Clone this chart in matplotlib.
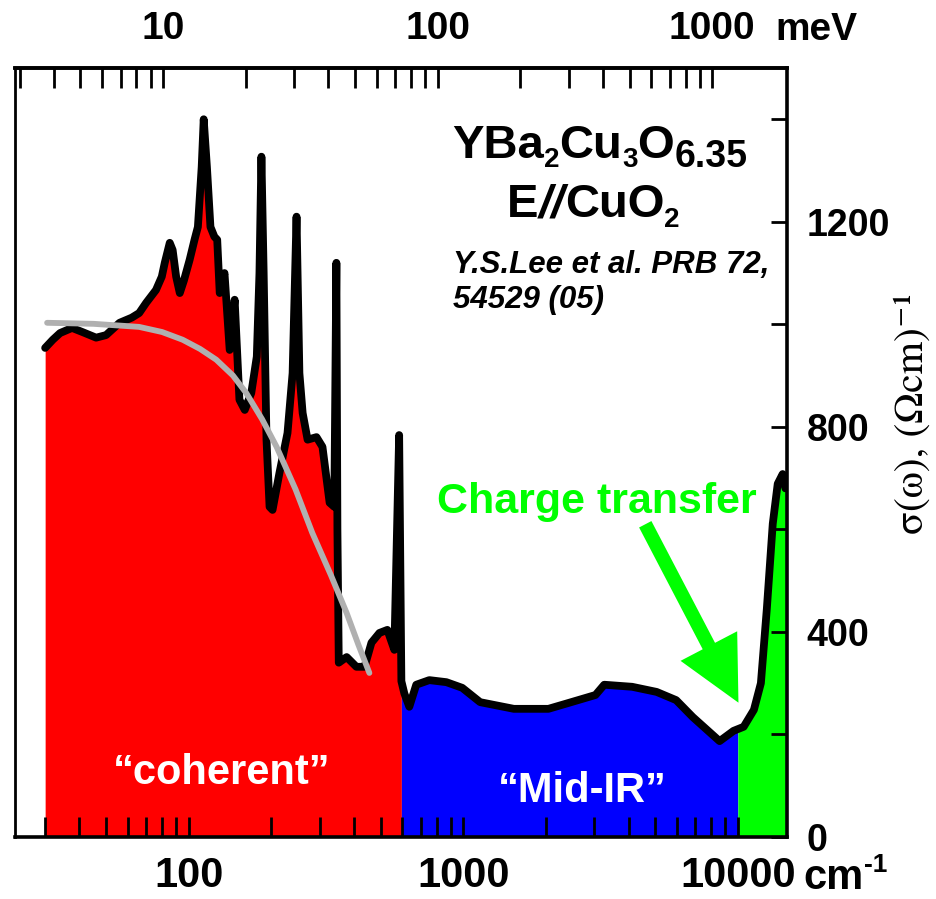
import numpy as np
import matplotlib.pyplot as plt
from matplotlib.ticker import FixedLocator, NullFormatter

plt.rcParams['font.family'] = ['Liberation Sans', 'DejaVu Sans']
plt.rcParams['font.weight'] = 'bold'

# optical conductivity, E // CuO2 (wavenumber in cm^-1, sigma in (Ohm cm)^-1)
wavenumber = [30, 32, 34, 37.6, 41, 46, 50, 56, 62, 66, 70, 76, 79.8, 81.8, 85.3,
              87.4, 90, 92.8, 96, 100.8, 105, 108, 111.5, 113.4, 116.5, 120, 124,
              127, 129.7, 135, 141, 147, 153, 160, 169, 177, 181, 184, 187.5, 192,
              197, 202, 214, 229, 239, 247, 253, 260, 271, 292, 307, 326, 339, 345,
              348, 352, 376, 408, 437, 463, 495, 529, 561, 584, 595, 610, 636, 674,
              752, 868, 991, 1152, 1528, 2042, 2400, 3030, 3260, 4120, 5060, 5960,
              6850, 8580, 9640, 10500, 11440, 12130, 12750, 13400, 13970, 14560, 14900]
sigma = [954, 970, 983, 993, 985, 974, 979, 1003, 1013, 1022, 1042, 1067, 1093, 1120, 1159,
         1145, 1093, 1061, 1085, 1126, 1165, 1190, 1307, 1400, 1307, 1190, 1171,
         1165, 1061, 1100, 950, 1048, 853, 833, 866, 937, 1100, 1327, 1100, 775,
         644, 638, 710, 788, 905, 1210, 905, 827, 775, 780, 761, 652, 644, 1120,
         600, 340, 351, 332, 332, 379, 398, 404, 365, 784, 304, 280, 254, 297,
         306, 302, 291, 263, 250, 250, 261, 277, 297, 293, 283, 267,
         234, 187, 207, 215, 248, 300, 445, 611, 689, 708, 680]

# Drude curve for the coherent part
drude_wavenumber = [30.5, 45, 66, 80, 95, 110, 126, 145, 162, 185, 209, 245, 282, 330, 376, 415, 455]
drude_sigma = [1003, 1001, 995, 985, 970, 952, 931, 900, 866, 815, 761, 678, 593, 510, 437, 375, 320]

# spectral regions: coherent / mid-IR / charge transfer
region_edges = [30, 595, 10000, 14900]
region_colors = ['#ff0000', '#0000ff', '#00ff00']

x_ticks = [100, 1000, 10000]
y_ticks = [0, 400, 800, 1200]
mev_ticks = [10, 100, 1000]
CM_PER_MEV = 8.0655

W, H = 937, 899


def fx(px):
    return px / W


def fy(py):
    return 1 - py / H


fig = plt.figure(figsize=(W / 100, H / 100), dpi=100)
ax = fig.add_axes([fx(15), fy(837), (787 - 15) / W, (837 - 68) / H])
ax.set_xscale('log')
ax.set_xlim(23.3, 15100)
ax.set_ylim(0, 1500)

x = np.array(wavenumber, dtype=float)
y = np.array(sigma, dtype=float)
lx = np.log10(x)
for lo, hi, c in zip(region_edges[:-1], region_edges[1:], region_colors):
    m = (x > lo) & (x < hi)
    xs = np.concatenate([[lo], x[m], [hi]])
    ys = np.interp(np.log10(xs), lx, y)
    ax.fill_between(xs, 0, ys, color=c, linewidth=0, zorder=1)

ax.plot(x, y, color='black', lw=5.6, solid_joinstyle='round', solid_capstyle='round', zorder=3)
ax.plot(drude_wavenumber, drude_sigma, color='#b0b0b0', lw=4.2, solid_capstyle='round', zorder=4)

# axes styling
for side in ['top', 'right', 'bottom']:
    ax.spines[side].set_linewidth(2.6)
ax.spines['left'].set_linewidth(2.0)
for s in ax.spines.values():
    s.set_zorder(5)

ax.yaxis.tick_right()
ax.yaxis.set_label_position('right')
ax.set_yticks(y_ticks)
ax.set_yticks([200, 600, 1000, 1400], minor=True)
ax.tick_params(axis='y', which='both', direction='in', length=11.5, width=2.0,
               labelsize=27, pad=14, right=True, left=False)

ax.xaxis.set_major_locator(FixedLocator(x_ticks))
minor_cm = [v * d for d in (10, 100, 1000) for v in range(2, 10) if 23.3 < v * d < 15100]
ax.xaxis.set_minor_locator(FixedLocator(minor_cm))
ax.xaxis.set_minor_formatter(NullFormatter())
ax.set_xticklabels([str(v) for v in x_ticks])
ax.tick_params(axis='x', which='both', direction='in', length=14.5, width=2.0,
               labelsize=30, pad=14, top=False)

sec = ax.secondary_xaxis('top', functions=(lambda v: v / CM_PER_MEV, lambda v: v * CM_PER_MEV))
sec.xaxis.set_major_locator(FixedLocator(mev_ticks))
minor_mev = [v * d for d in (1, 10, 100) for v in range(2, 10) if 2.9 < v * d < 1870]
sec.xaxis.set_minor_locator(FixedLocator(minor_mev))
sec.xaxis.set_minor_formatter(NullFormatter())
sec.set_xticklabels([str(v) for v in mev_ticks])
sec.tick_params(axis='x', which='both', direction='in', length=14.5, width=2.0,
                labelsize=28, pad=15)
sec.spines['top'].set_linewidth(2.6)

fig.text(fx(775), fy(40), 'meV', fontsize=28, va='baseline', ha='left')
fig.text(fx(803), fy(889), 'cm', fontsize=30, va='baseline', ha='left')
fig.text(fx(864), fy(872), '-1', fontsize=19, va='baseline', ha='left')

# conductivity label on the right, regular serif
fig.text(fx(913), fy(413), '\u03c3(\u03c9), (\u03a9cm)\u207b\u00b9', fontsize=30,
         family=['STIXGeneral', 'Liberation Serif', 'DejaVu Serif'], fontweight='normal',
         rotation=90, va='center', ha='center')


def chain(px, py, parts, base_size):
    """Write text pieces one after another; the last item is the baseline drop in pixels."""
    first = fig.text(fx(px), fy(py), parts[0][0], fontsize=base_size,
                     fontstyle=parts[0][2], va='baseline', ha='left')
    prev = first
    desc = 0.21 * base_size
    for s, size, style, drop in parts[1:]:
        prev = ax.annotate(s, xy=(1, 0), xycoords=(prev, first),
                           xytext=(0, desc - drop * 0.72), textcoords='offset points',
                           fontsize=size, fontstyle=style, va='baseline', ha='left')
    return first


chain(452, 158, [('YBa', 34, 'normal', 0), ('2', 20, 'normal', 9), ('Cu', 34, 'normal', 0),
                 ('3', 20, 'normal', 9), ('O', 34, 'normal', 0), ('6.35', 27, 'normal', 9)], 34)
chain(507, 217, [('E', 34, 'normal', 0), ('//', 34, 'italic', 0), ('CuO', 34, 'normal', 0),
                 ('2', 20, 'normal', 10)], 34)

fig.text(fx(453), fy(273), 'Y.S.Lee et al. PRB 72,', fontsize=22.5, fontstyle='italic', va='baseline')
fig.text(fx(453), fy(308), '54529 (05)', fontsize=22.5, fontstyle='italic', va='baseline')

fig.text(fx(437), fy(513), 'Charge transfer', fontsize=31, color='#00ff00', va='baseline')
ax.annotate('', xy=(10050, 262), xytext=(4600, 610),
            arrowprops=dict(facecolor='#00ff00', edgecolor='none', width=10,
                            headwidth=46, headlength=46, shrink=0), zorder=6)

fig.text(fx(113), fy(784), '\u201ccoherent\u201d', fontsize=30, color='white', va='baseline')
fig.text(fx(498), fy(802), '\u201cMid-IR\u201d', fontsize=30, color='white', va='baseline')

fig.savefig('out.png', dpi=100)
